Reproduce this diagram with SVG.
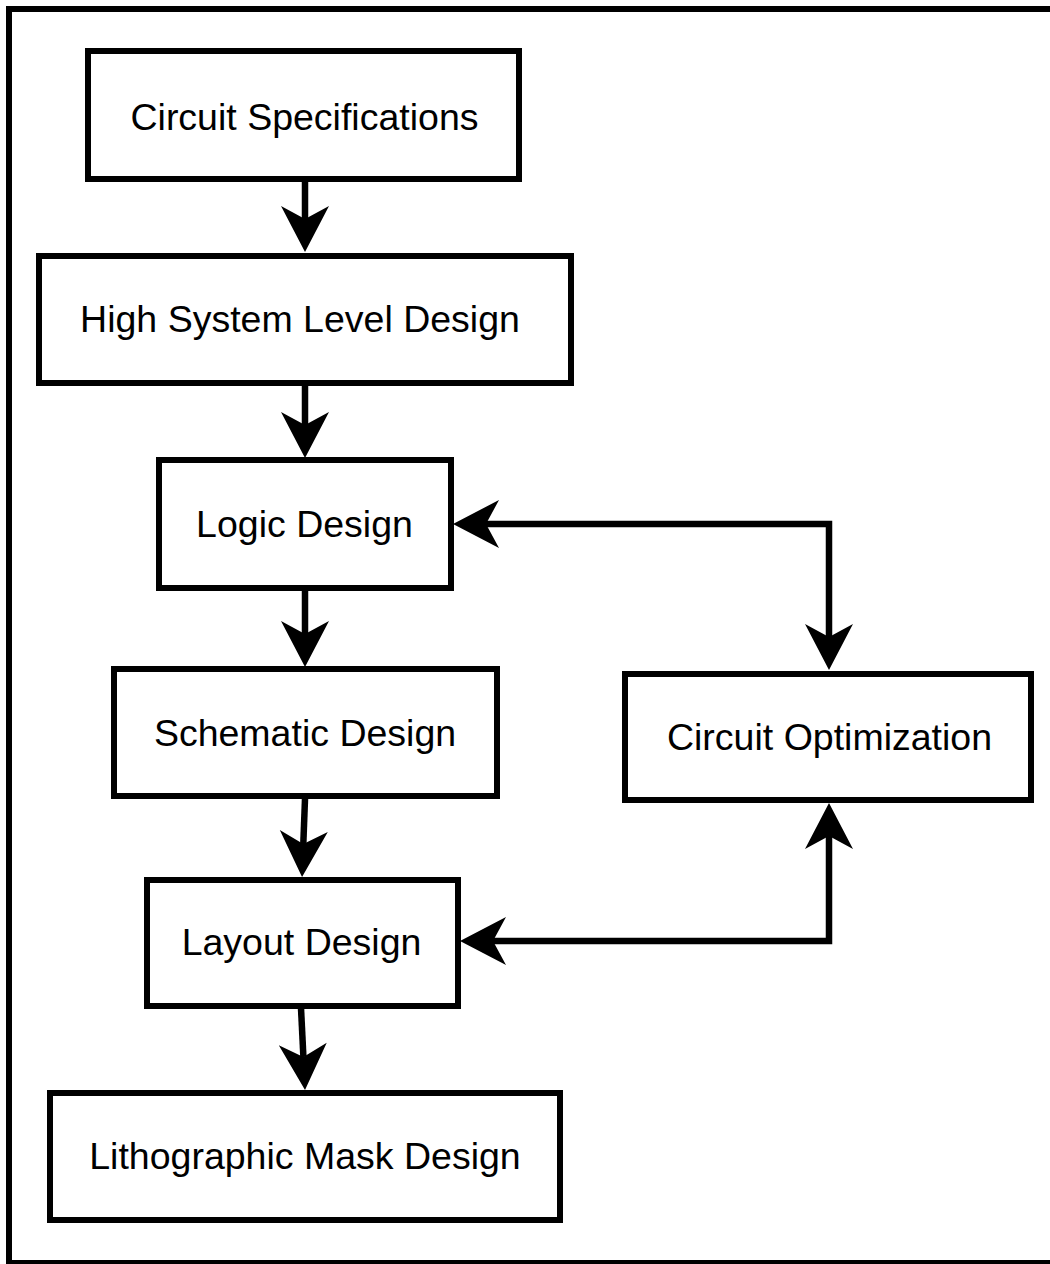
<svg xmlns="http://www.w3.org/2000/svg" width="1050" height="1264" viewBox="0 0 1050 1264">
  <style>
    .frame { fill: none; stroke: #000; stroke-width: 6; }
    .box { fill: #fff; stroke: #000; stroke-width: 6; }
    .label { font-family: "Liberation Sans", Arial, sans-serif; font-size: 37.5px; fill: #000; text-anchor: middle; }
    .edge { fill: none; stroke: #000; stroke-width: 6.5; stroke-linejoin: miter; }
  </style>
  <defs>
    <!-- arrowhead: the path end sits in the notch, tip lies 33px ahead -->
    <marker id="head" markerUnits="userSpaceOnUse" orient="auto-start-reverse" refX="0" refY="0" markerWidth="10" markerHeight="10" overflow="visible">
      <path d="M-13,-24 L33,0 L-13,24 L0,0 Z" fill="#000"/>
    </marker>
  </defs>

  <rect width="1050" height="1264" fill="#fff"/>
  <rect class="frame" x="9" y="9" width="1050" height="1254"/>

  <g id="connectors">
    <path class="edge" d="M305,182 L305,219" marker-end="url(#head)"/>
    <path class="edge" d="M305,386 L305,425" marker-end="url(#head)"/>
    <path class="edge" d="M305,590 L305,634" marker-end="url(#head)"/>
    <path class="edge" d="M305,799 L303.3,844" marker-end="url(#head)"/>
    <path class="edge" d="M301,1008 L303.4,1057" marker-end="url(#head)"/>
    <path class="edge" d="M486,524 L829,524 L829,637" marker-start="url(#head)" marker-end="url(#head)"/>
    <path class="edge" d="M829,836 L829,941 L493,941" marker-start="url(#head)" marker-end="url(#head)"/>
  </g>

  <g id="circuit-specifications">
    <rect class="box" x="88" y="51" width="431" height="128"/>
    <text class="label" x="304.5" y="130">Circuit Specifications</text>
  </g>
  <g id="high-system-level-design">
    <rect class="box" x="39" y="256" width="532" height="127"/>
    <text class="label" x="300" y="332">High System Level Design</text>
  </g>
  <g id="logic-design">
    <rect class="box" x="159" y="460" width="292" height="128"/>
    <text class="label" x="304.5" y="537">Logic Design</text>
  </g>
  <g id="schematic-design">
    <rect class="box" x="114" y="669" width="383" height="127"/>
    <text class="label" x="305" y="746">Schematic Design</text>
  </g>
  <g id="circuit-optimization">
    <rect class="box" x="625" y="674" width="406" height="126"/>
    <text class="label" x="829.5" y="750">Circuit Optimization</text>
  </g>
  <g id="layout-design">
    <rect class="box" x="147" y="880" width="311" height="126"/>
    <text class="label" x="301.5" y="955">Layout Design</text>
  </g>
  <g id="lithographic-mask-design">
    <rect class="box" x="50" y="1093" width="510" height="127"/>
    <text class="label" x="305" y="1169">Lithographic Mask Design</text>
  </g>
</svg>
